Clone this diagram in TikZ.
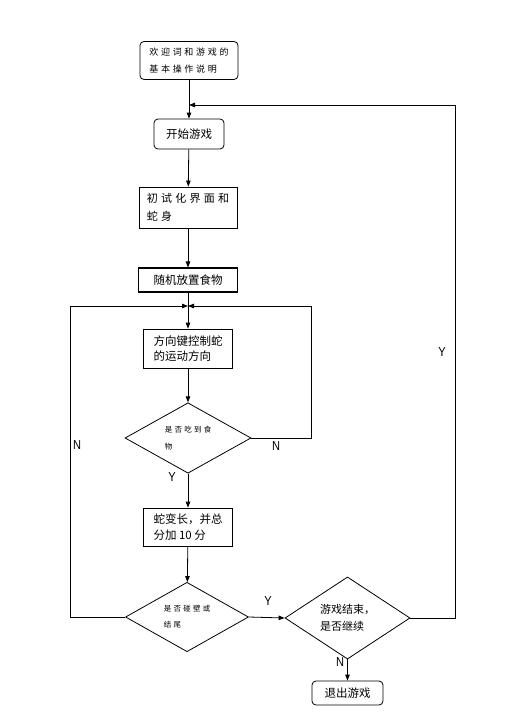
\documentclass[tikz,border=0pt]{standalone}
\usepackage{fontspec}
\setmainfont{Liberation Sans}
\newfontfamily\cjk{Noto Sans CJK SC}
\newfontfamily\cjksp[LetterSpace=30]{Noto Sans CJK SC}
\usetikzlibrary{shapes.geometric,arrows.meta}
\begin{document}
\begin{tikzpicture}[x=1pt,y=-1pt,
  arr/.style={-{Triangle[length=6pt,width=4.5pt]}},
  line/.style={draw=black,line width=0.8pt},
  rbox/.style={line,rounded corners=4pt,inner sep=0pt,align=left,font=\cjk\fontsize{11.5}{16}\selectfont},
  sbox/.style={line,inner sep=0pt,align=left,font=\cjk\fontsize{11.5}{16}\selectfont},
  dia/.style={line,diamond,inner sep=0pt,align=left},
  lab/.style={font=\fontsize{13}{15}\selectfont,inner sep=0pt,xscale=0.85}]
\useasboundingbox (0,0) rectangle (518,712);
\fill[white] (0,0) rectangle (518,712);
\node[rbox,minimum width=98pt,minimum height=38pt,font=\cjksp\fontsize{9}{17}\selectfont] (b1) at (189,60.5) {欢迎词和游戏的\\基本操作说明};
\node[rbox,minimum width=70pt,minimum height=30pt] (b2) at (189,134) {开始游戏};
\node[sbox,minimum width=98pt,minimum height=41pt,font=\cjksp\fontsize{11}{18}\selectfont] (b3) at (188,207.5) {初试化界面和\\蛇身};
\node[sbox,minimum width=99pt,minimum height=24pt,line width=1.1pt] (b4) at (188,280) {随机放置食物};
\node[sbox,minimum width=89pt,minimum height=39pt,font=\cjk\fontsize{11.5}{15.5}\selectfont] (b5) at (188,348.5) {方向键控制蛇\\的运动方向};
\node[dia,minimum width=126pt,minimum height=62pt,font=\cjksp\fontsize{7.5}{17}\selectfont] (d1) at (188,438) {是否吃到食\\物};
\node[sbox,minimum width=89pt,minimum height=38pt,font=\cjk\fontsize{11.5}{15.5}\selectfont] (b6) at (188,527) {蛇变长，并总\\分加 10 分};
\node[dia,minimum width=123pt,minimum height=61pt,font=\cjksp\fontsize{7.5}{16}\selectfont] (d2) at (187,617) {是否碰壁或\\结尾};
\node[dia,minimum width=125pt,minimum height=62pt,font=\cjk\fontsize{11}{17}\selectfont] (d3) at (347.5,618) {游戏结束，\\是否继续};
\node[rbox,minimum width=71pt,minimum height=24pt] (b7) at (347.5,693) {退出游戏};
\coordinate (jt) at (189,105);
\coordinate (jn) at (188,306);
\coordinate (r1) at (455,618);
\coordinate (r2) at (455,105);
\coordinate (e1) at (311,438);
\coordinate (e2) at (311,306);
\coordinate (w1) at (70,617);
\coordinate (w2) at (70,306);
\draw[line,arr] (b1) -- (b2);
\draw[line,arr] (b2) -- (b3);
\draw[line,arr] (b3) -- (b4);
\draw[line,arr] (b4) -- (b5);
\draw[line,arr] (b5) -- (d1);
\draw[line,arr] (d1) -- (b6);
\draw[line,arr] (b6) -- (d2);
\draw[line,arr] (d2.east) -- (d3.west);
\draw[line,arr] (d3) -- (b7);
\draw[line,arr] (d1.east) -- (e1) -- (e2) -- (jn);
\draw[line,arr] (d2.west) -- (w1) -- (w2) -- (jn);
\draw[line,arr] (d3.east) -- (r1) -- (r2) -- (jt);
\node[lab] (n1) at (276,446) {N};
\node[lab] (n2) at (77,445) {N};
\node[lab] (y1) at (172,477) {Y};
\node[lab] (y2) at (268,601) {Y};
\node[lab] (y3) at (442,352) {Y};
\node[lab] (n3) at (340,662) {N};
\end{tikzpicture}
\end{document}
